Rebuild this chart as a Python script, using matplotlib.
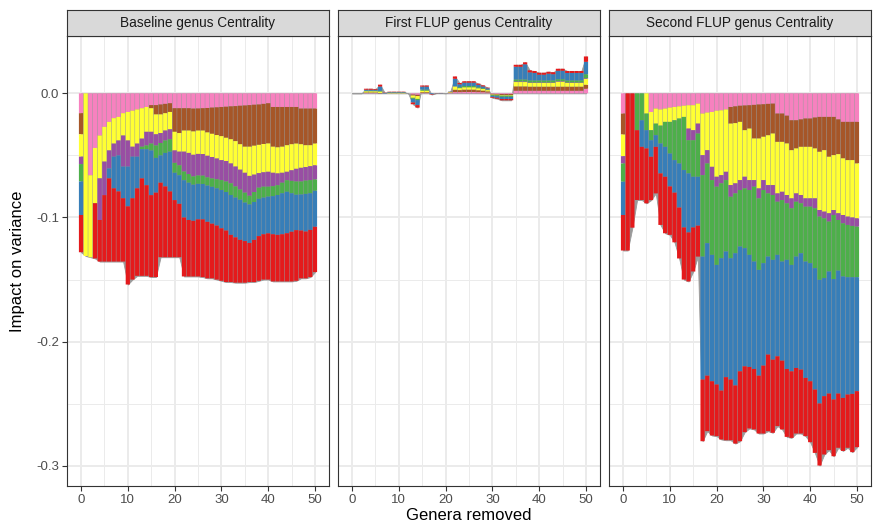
import matplotlib
matplotlib.use("Agg")
import matplotlib.pyplot as plt
from matplotlib.ticker import MultipleLocator, FormatStrFormatter
import numpy as np

plt.rcParams['font.family'] = ['Liberation Sans', 'DejaVu Sans']
plt.rcParams['axes.unicode_minus'] = False

genera_removed = list(range(51))
panel_titles = ["Baseline genus Centrality", "First FLUP genus Centrality", "Second FLUP genus Centrality"]
colors = ["#F781BF", "#A65628", "#FFFF33", "#984EA3", "#4DAF4A", "#377EB8", "#E41A1C"]

# impact on variance of each genus group, in units of 1e-3 (order: pink, brown, yellow, purple, green, blue, red)
base_pink = [-16, 0, -66, -44, -34, -27, -23, -20, -19, -16, -15, -14, -13, -12, -11, -9.5, -9.5, -9, -8.5, -8,
             -12, -12, -12, -12, -12.3, -12.2, -12, -11.8, -11.5, -11.3, -11, -10.8, -10.5, -10.3, -10, -9.8,
             -9.5, -9.2, -9, -8.5, -8, -11, -11, -11, -11, -11, -11, -12.3, -12.3, -12.3, -12.3]
base_brown = [-17, 0, 0, 0, 0, 0, 0, 0, 0, 0, 0, 0, 0, 0, 0, -2.5, -7.5, -8, -7.5, -7,
              -19, -20, -18, -18, -18.4, -17.8, -18, -19.7, -21.1, -22.3, -23.5, -25, -26.5, -28.2, -31, -33.2,
              -33.5, -33, -32.5, -32.3, -32.4, -32, -32.5, -32, -30.8, -30, -29.5, -28.7, -29.5, -29.5, -28.2]
base_yellow = [-18, -131, -66, -44.5, -34.5, -28, -23, -20.5, -19, -18, -23, -29, -27.5, -24.5, -20, -19, -16, -15,
               -14, -14, -15, -15, -17, -18, -18.8, -18.8, -18.9, -18.8, -18.7, -18.9, -19.3, -18.7, -19.5, -20.5,
               -20.5, -21, -23.5, -23.3, -22.8, -22.8, -22.8, -21, -21, -21, -21.4, -21, -20.3, -19, -17.6, -16.9, -17.5]
base_purple = [-6, 0, 0, 0, -33.5, -27, -14.5, -10.5, -12, -25, -21, -8, -10.5, -6.5, -11, -9.5, -9, -8, -8, -8,
               -10, -11, -16, -17, -17.4, -17.4, -17.4, -17.4, -17.3, -16.7, -16.1, -16.5, -16, -16, -16, -16,
               -16, -14, -11.7, -11.6, -12, -10.8, -9.5, -8, -6.8, -8.5, -10.2, -11, -10.9, -11.2, -11.4]
base_green = [-14, 0, 0, 0, 0, 0, 0, 0, 0, 0, 0, 0, 0, -2, -3, -5.5, -10, -10, -10, -10, -8, -8, -7, -7, -6.7,
              -6.7, -6.7, -6.6, -6.7, -7.3, -8, -8.5, -9.4, -9, -8.2, -8, -7, -8, -9, -8.8, -8, -8, -7.9, -8.5,
              -9.3, -10, -10.7, -10.5, -10.7, -10.6, -9.1]
base_blue = [-27, 0, 0, 0, 0, 0, -8, -25.5, -29, -25.5, -32, -33.5, -25.5, -23.5, -29, -36, -28, -22, -27, -32,
             -22, -23, -30, -30, -29.1, -28.6, -28.5, -29.2, -29.7, -30, -30.8, -31, -32.1, -32, -32.3, -31, -31,
             -30.5, -30, -29.5, -29.6, -30.7, -32.1, -33, -33.4, -31, -28.5, -29, -30.3, -29.5, -29]
base_red = [-30, 0, 0, -44.5, -33.5, -53.5, -67, -59, -56.5, -51, -63, -65.5, -70.5, -78.5, -73, -66, -68, -60,
            -57, -53, -46, -43, -47.5, -45.5, -44.8, -46, -46.5, -45.5, -44, -43.5, -42.3, -41.5, -38, -36.5,
            -34.5, -33.5, -31.5, -34, -36, -36.5, -37.2, -38, -37.5, -38, -38.8, -40, -40.8, -38.5, -37.7, -38, -36.5]

first_pink = [0, 0, 0, .3, .3, .3, 0, 0, 0, 0, 0, 0, 0, -1.0, -1.2, .3, .3, 0, 0, 0, 0, .3, 1.0, 1.0, 1.1, 1.1,
              1.1, 1.0, .9, .7, -.4, -.5, -.6, -.6, -.6, 2.1, 2.1, 2.1, 2.1, 2.1, 2.1, 2.1, 2.1, 2.1, 2.1, 2.1,
              2.1, 2.1, 2.1, 2.1, 3.7]
first_brown = [0, 0, 0, .4, .4, .4, .3, 0, 0, 0, 0, 0, 0, -.8, -1.0, .6, .6, 0, 0, 0, 0, .4, 1.9, 1.6, 1.9, 1.9,
               1.9, 1.5, 1.3, .9, -.6, -.6, -.8, -.8, -.8, 3.5, 3.5, 3.5, 3.3, 3.3, 3.3, 3.3, 3.3, 3.3, 3.3, 3.3,
               3.3, 3.3, 3.3, 3.3, 3.2]
first_yellow = [0, 0, 0, 1.0, 1.0, 1.0, 1.2, 0, .3, .3, .3, .3, 0, -1.8, -2.3, 1.3, 1.3, 0, 0, 0, 0, .4, 2.7, 1.6,
                1.9, 1.9, 1.9, 1.6, 1.3, 1.0, -.3, -.4, -.5, -.5, -.5, 3.5, 3.5, 3.5, 3.0, 3.0, 3.0, 3.0, 3.0,
                3.0, 4.0, 4.0, 3.0, 3.0, 3.0, 3.0, 4.8]
first_purple = [0, 0, 0, 0, 0, 0, 0, 0, 0, 0, 0, 0, 0, 0, 0, 0, 0, 0, 0, 0, 0, 0, 0, 0, 0, 0, 0, 0, 0, 0, 0, 0, 0,
                0, 0, .5, .5, .5, .4, .4, .4, .4, .4, .4, .4, .4, .4, .4, .4, .4, .5]
first_green = [0, 0, 0, .4, .4, .4, .5, 0, .3, .3, .3, .3, 0, -.8, -1.0, .8, .8, 0, 0, 0, 0, 0, 0, .8, 1.0, 1.0,
               1.0, .8, .6, .5, -.7, -.8, -1.0, -1.0, -1.0, 1.6, 1.6, 1.6, 1.6, 1.6, 1.6, 1.6, 1.6, 1.6, 1.6, 1.6,
               1.6, 1.6, 1.6, 1.6, 3.2]
first_blue = [0, 0, 0, .8, .8, .8, 3.5, .3, .4, .4, .4, .4, 0, -3.0, -4.0, 2.4, 2.4, -.6, .1, .2, 0, .3, 6.1, 2.3,
              2.7, 2.7, 2.7, 2.0, 1.5, 1.0, -1.1, -1.3, -1.7, -1.7, -1.7, 10.2, 10.2, 12.2, 6.5, 6.0, 4.6, 4.6,
              5.4, 5.0, 6.8, 6.8, 6.0, 6.0, 6.0, 6.0, 10.0]
first_red = [0, 0, 0, .8, .8, .6, 1.5, .2, .3, .3, .3, .3, 0, -1.4, -2.0, .9, .9, -.4, .1, .1, 0, .1, 1.9, 1.0,
             1.1, 1.1, 1.1, .9, .8, .5, -.6, -.7, -1.0, -1.0, -1.0, 1.6, 1.6, 1.6, 1.6, 1.6, 1.6, 1.6, 1.6, 1.6,
             1.6, 1.6, 1.6, 1.6, 1.6, 1.6, 4.3]

second_pink = [-16.3, 0, 0, 0, 0, 0, -15, -12.3, -13, -12.3, -11.5, -11, -10.5, -10, -9.6, -9.6, -8.3, -16.3,
               -15.5, -15, -14, -13.7, -13, -11, -10.5, -10, -9.8, -9.6, -9.3, -9, -8.8, -8.5, -8.3, -16.3, -16.3,
               -18, -21.7, -21.7, -21, -20.3, -20.3, -19.5, -19, -19, -19, -19, -21, -23, -23, -23, -23]
second_brown = [-16.9, 0, 0, 0, 0, 0, 0, 0, 0, 0, 0, 0, 0, 0, 0, 0, 0, 0, 0, 0, 0, 0, 0, -13.4, -13.5, -13,
                -19.9, -18.8, -27.1, -27.4, -26.2, -25.3, -24.1, -22.8, -22.8, -22.4, -24.1, -22.7, -22.1, -22.8,
                -22.8, -24.9, -28.1, -26.8, -32.1, -30.8, -28, -29.4, -30.8, -30.8, -33.5]
second_yellow = [-17.4, 0, 0, 0, 0, -16.3, -14.7, -12.1, -13, -10.7, -11.5, -10.7, -9.8, -9, -18.8, -20.1, -16.1,
                 -33.5, -30.3, -44.2, -53.2, -52.2, -50.2, -49.5, -48.5, -46.9, -37.5, -41.5, -33.5, -40.2, -34.9,
                 -40.1, -41.5, -41.5, -40.2, -41.5, -38.8, -36.2, -38.8, -41.5, -41.5, -40.2, -46.9, -49.5, -45.5,
                 -44.2, -47.6, -45.6, -45.5, -46.2, -44.2]
second_purple = [-5.9, 0, 0, 0, 0, 0, 0, 0, 0, 0, 0, 0, 0, 0, -9.4, -8.1, -8, -16.1, -10.7, -10.7, -8, -6.6,
                 -6.7, -9.4, -8.1, -8, -9.4, -8, -5.3, -8, -8, -6.7, -8, -6.7, -6.7, -6.7, -8, -6.7, -6.7, -6.7,
                 -6.7, -8, -5.3, -5.4, -6.7, -4, -5.4, -6.7, -6.7, -6.8, -6.7]
second_green = [-14.7, 0, 0, -29.7, -21.7, -13.4, -8.1, -9.3, -14.4, -20.1, -25.5, -32.1, -36.2, -42.8, -26.7,
                -29.4, -34.8, -65.6, -64.2, -60.2, -63, -60.3, -57.5, -49.5, -48.2, -45.5, -48.1, -52.2, -60.3,
                -57.6, -58.9, -50.9, -52.2, -42.8, -49.5, -45.5, -45.6, -44.2, -40.2, -44.2, -45.5, -48.2, -50.9,
                -48.1, -40.2, -51.6, -40.8, -42.8, -42.1, -41.3, -40.7]
second_blue = [-26.8, 0, 0, 0, -21.4, -14.7, -13.3, -9.4, -24.1, -24.1, -26.5, -26.2, -35.5, -46.2, -47.5, -40.8,
               -39.4, -99, -106.7, -101.8, -96.3, -106.6, -101.2, -97.7, -106.5, -100.5, -95.2, -90.3, -86.5,
               -85.2, -82.5, -78.9, -80.4, -81.7, -79.8, -87.9, -85.7, -89.7, -93.7, -93.7, -95.1, -97.8, -99.6,
               -95.1, -98.3, -97, -99, -97.8, -94.5, -94, -91.8]
second_red = [-28.6, -126.6, -108.2, -56.2, -42.8, -44.2, -34.9, -37.5, -41.5, -45.5, -39, -40, -41, -42, -39.5,
              -35.5, -24.9, -49.7, -44.7, -43.7, -41.6, -39.4, -50.8, -48.9, -46.8, -56.3, -53, -49.5, -48.7,
              -46.6, -54.7, -61.7, -58.9, -56.2, -55.4, -54.7, -53.6, -52.8, -51.5, -46.9, -49.1, -51, -50, -47,
              -45.6, -45.7, -43.7, -42.7, -42.9, -46.9, -45.1]

baseline = [base_pink, base_brown, base_yellow, base_purple, base_green, base_blue, base_red]
first = [first_pink, first_brown, first_yellow, first_purple, first_green, first_blue, first_red]
second = [second_pink, second_brown, second_yellow, second_purple, second_green, second_blue, second_red]
all_panels = [baseline, first, second]

x = np.array(genera_removed)

# shared y range like ggplot (5% expansion)
lows, highs = [], []
for p in all_panels:
    arr = np.array(p) * 1e-3
    lows.append(np.where(arr < 0, arr, 0).sum(axis=0).min())
    highs.append(np.where(arr > 0, arr, 0).sum(axis=0).max())
ymin, ymax = min(lows), max(highs)
pad = (ymax - ymin) * 0.05

W, H = 873, 525
fig = plt.figure(figsize=(W / 100, H / 100), dpi=100)

panel_left = [67, 338, 609]
panel_w = 262
top_px, bot_px, strip_top = 36, 486, 10

for k, (title, data) in enumerate(zip(panel_titles, all_panels)):
    ax = fig.add_axes([panel_left[k] / W, 1 - bot_px / H, panel_w / W, (bot_px - top_px) / H])
    vals = np.array(data) * 1e-3
    pos = np.zeros(len(x))
    neg = np.zeros(len(x))
    for v, c in zip(vals, colors):
        bottom = np.where(v >= 0, pos, neg)
        bars = ax.bar(x, v, bottom=bottom, width=0.9, color=c, linewidth=0, zorder=2)
        for b in bars:
            b.set_snap(False)
        pos = pos + np.where(v > 0, v, 0)
        neg = neg + np.where(v < 0, v, 0)
    total = vals.sum(axis=0)
    ax.fill_between(x, 0, total, color='#9a9a9a', linewidth=0.6, edgecolor='#9a9a9a', zorder=1.5)

    ax.set_xlim(-2.995, 52.995)
    ax.set_ylim(ymin - pad, ymax + pad)
    ax.set_xticks([0, 10, 20, 30, 40, 50])
    ax.set_yticks([-0.3, -0.2, -0.1, 0.0])
    ax.xaxis.set_minor_locator(MultipleLocator(5))
    ax.yaxis.set_minor_locator(MultipleLocator(0.05))
    ax.yaxis.set_major_formatter(FormatStrFormatter('%.1f'))
    ax.set_axisbelow(True)
    ax.grid(which='major', color='#EBEBEB', linewidth=1.4, zorder=0)
    ax.grid(which='minor', color='#EBEBEB', linewidth=0.7, zorder=0)
    ax.tick_params(which='minor', length=0)
    ax.tick_params(which='major', length=3.5, width=0.8, color='#333333',
                   labelcolor='#4D4D4D', labelsize=9.5, pad=2)
    if k > 0:
        ax.tick_params(axis='y', length=0, labelleft=False)
    for s in ax.spines.values():
        s.set_color('#333333')
        s.set_linewidth(0.8)

    sax = fig.add_axes([panel_left[k] / W, 1 - top_px / H, panel_w / W, (top_px - strip_top) / H])
    sax.set_facecolor('#D9D9D9')
    sax.set_xticks([])
    sax.set_yticks([])
    for s in sax.spines.values():
        s.set_color('#333333')
        s.set_linewidth(0.8)
    sax.text(0.5, 0.5, title, ha='center', va='center', fontsize=9.8, color='#1A1A1A',
             transform=sax.transAxes)

fig.text(18 / W, 1 - 261 / H, "Impact on variance", rotation=90, ha='center', va='center', fontsize=12)
fig.text(469 / W, 1 - 515 / H, "Genera removed", ha='center', va='center', fontsize=12)

fig.savefig("out.png", dpi=100)
